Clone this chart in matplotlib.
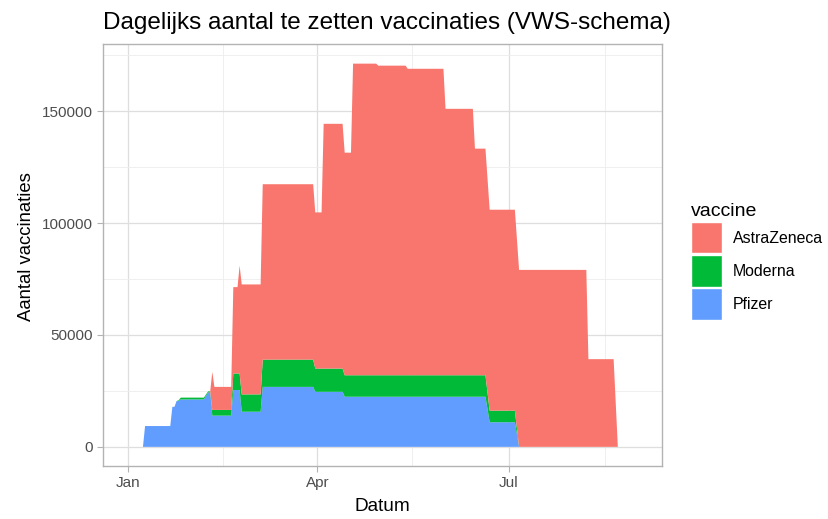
import pandas as pd
import matplotlib.pyplot as plt
import matplotlib.dates as mdates
from matplotlib.patches import Patch

plt.rcParams['font.family'] = ['Liberation Sans', 'DejaVu Sans']

# Dagelijkse aantallen per vaccin op de momenten waarop het schema verandert
dates = ["2021-01-08", "2021-01-09", "2021-01-21", "2021-01-22", "2021-01-23",
         "2021-01-24", "2021-01-25", "2021-01-26", "2021-02-06", "2021-02-08",
         "2021-02-09", "2021-02-10", "2021-02-11", "2021-02-19", "2021-02-20",
         "2021-02-22", "2021-02-23", "2021-02-24", "2021-03-05", "2021-03-06",
         "2021-03-30", "2021-03-31", "2021-04-03", "2021-04-04", "2021-04-13",
         "2021-04-14", "2021-04-17", "2021-04-18", "2021-04-29", "2021-04-30",
         "2021-05-13", "2021-05-14", "2021-05-31", "2021-06-01", "2021-06-14",
         "2021-06-15", "2021-06-20", "2021-06-22", "2021-07-04", "2021-07-06",
         "2021-08-07", "2021-08-08", "2021-08-20", "2021-08-22"]

pfizer = [0, 9300, 9300, 17900, 17900,
          20500, 20500, 21200, 21200, 24300,
          24300, 13950, 13950, 13950, 25400,
          25400, 25400, 15700, 15700, 26800,
          26800, 24600, 24600, 24600, 24600,
          22400, 22400, 22400, 22400, 22400,
          22400, 22400, 22400, 22400, 22400,
          22400, 22400, 11000, 11000, 0,
          0, 0, 0, 0]

moderna = [0, 0, 0, 0, 0,
           0, 300, 800, 800, 500,
           500, 2550, 2550, 2550, 7400,
           7400, 7400, 7750, 7750, 12200,
           12200, 10400, 10400, 10400, 10400,
           9600, 9600, 9600, 9600, 9600,
           9600, 9600, 9600, 9600, 9600,
           9600, 9600, 5200, 5200, 0,
           0, 0, 0, 0]

astrazeneca = [0, 0, 0, 0, 0,
               0, 0, 0, 0, 0,
               0, 17000, 10300, 10300, 38600,
               38600, 48200, 49150, 49150, 78400,
               78400, 69800, 69800, 109400, 109400,
               99500, 99500, 139300, 139300, 138400,
               138400, 137000, 137000, 119100, 119100,
               101300, 101300, 89800, 89800, 79100,
               79100, 39200, 39200, 0]

vaccines = ["AstraZeneca", "Moderna", "Pfizer"]
colors = {"AstraZeneca": "#F8766D", "Moderna": "#00BA38", "Pfizer": "#619CFF"}

df = pd.DataFrame({"datum": pd.to_datetime(dates), "Pfizer": pfizer,
                   "Moderna": moderna, "AstraZeneca": astrazeneca})

fig = plt.figure(figsize=(8.29, 5.19), dpi=100)
ax = fig.add_axes([0.1243, 0.1021, 0.6742, 0.8122])

# gestapeld: Pfizer onder, dan Moderna, dan AstraZeneca
ax.stackplot(df["datum"], df["Pfizer"], df["Moderna"], df["AstraZeneca"],
             colors=[colors["Pfizer"], colors["Moderna"], colors["AstraZeneca"]],
             linewidth=0, zorder=3)

ax.set_xlim(pd.Timestamp("2020-12-20"), pd.Timestamp("2021-09-12"))
ax.set_ylim(-8565, 179865)

ax.xaxis.set_major_locator(mdates.MonthLocator(bymonth=[1, 4, 7]))
ax.xaxis.set_major_formatter(mdates.DateFormatter("%b"))
ax.set_xticks([pd.Timestamp("2021-02-15"), pd.Timestamp("2021-05-16"),
               pd.Timestamp("2021-08-16")], minor=True)
ax.set_yticks([0, 50000, 100000, 150000])
ax.set_yticks([25000, 75000, 125000, 175000], minor=True)
ax.set_yticklabels(["0", "50000", "100000", "150000"])

ax.grid(True, which="major", color="#DEDEDE", linewidth=0.9, zorder=0)
ax.grid(True, which="minor", color="#EDEDED", linewidth=0.6, zorder=0)
ax.set_axisbelow(True)
for s in ax.spines.values():
    s.set_color("#B3B3B3")
    s.set_linewidth(1.0)
ax.tick_params(which="major", length=4, color="#B3B3B3", labelsize=11,
               labelcolor="#4D4D4D", pad=3)
ax.tick_params(which="minor", length=0)

ax.set_xlabel("Datum", fontsize=13.7, labelpad=6)
ax.set_ylabel("Aantal vaccinaties", fontsize=13.3)
ax.yaxis.set_label_coords(-0.121, 0.52)
ax.set_title("Dagelijks aantal te zetten vaccinaties (VWS-schema)",
             fontsize=17.5, loc="left", x=0.0, pad=11.5)

handles = [Patch(facecolor=colors[v], edgecolor="white", linewidth=1, label=v)
           for v in vaccines]
leg = ax.legend(handles=handles, title="vaccine", loc="upper left",
                bbox_to_anchor=(1.040, 0.638), frameon=False, fontsize=11.4,
                title_fontsize=14, handlelength=1.95, handleheight=2.65,
                labelspacing=0.12, handletextpad=0.72, borderaxespad=0)
leg._legend_box.align = "left"

fig.savefig("out.png", dpi=100)
